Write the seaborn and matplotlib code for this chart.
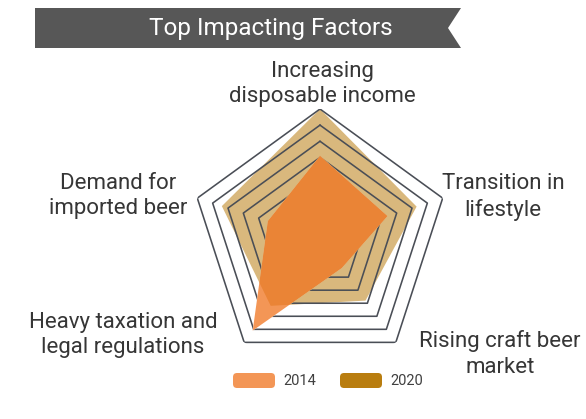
import numpy as np
import pandas as pd
import matplotlib
matplotlib.use("Agg")
import matplotlib.pyplot as plt
import seaborn as sns
from matplotlib.patches import Polygon, FancyBboxPatch
from matplotlib.transforms import IdentityTransform

# ---- data -------------------------------------------------------------
factors = [
    "Increasing\ndisposable income",
    "Transition in\nlifestyle",
    "Rising craft beer\nmarket",
    "Heavy taxation and\nlegal regulations",
    "Demand for\nimported beer",
]
values_2014 = [5.1, 4.4, 2.3, 7.1, 3.4]
values_2020 = [8.0, 6.3, 4.8, 5.2, 6.4]
ring_levels = [1, 2, 3, 4, 5, 6, 7, 8]
years = ["2014", "2020"]

# ---- style ------------------------------------------------------------
sns.set_theme(style="white")
plt.rcParams["font.family"] = ["Roboto", "DejaVu Sans"]

color_2014 = "#f0731e"
color_2020 = "#b97d0f"
grid_color = "#4a4e56"
text_color = "#363636"

W, H = 586, 419
fig = plt.figure(figsize=(W / 100, H / 100), dpi=100)
fig.patch.set_facecolor("white")

def fx(x):
    return x / W

def fy(y):
    return 1 - y / H

# ---- title banner -----------------------------------------------------
banner = Polygon(
    [(35, H - 8), (461, H - 8), (448, H - 28), (461, H - 48), (35, H - 48)],
    closed=True, facecolor="#575757", edgecolor="none",
    transform=IdentityTransform(),
)
fig.add_artist(banner)
fig.text(fx(271), fy(28), "Top Impacting Factors", color="white",
         fontsize=17.5, fontweight="normal", ha="center", va="center")

# ---- radar ------------------------------------------------------------
cx, cy, R = 320, 238, 129
ax = fig.add_axes([fx(cx - R), 1 - (cy + R) / H, 2 * R / W, 2 * R / H],
                  projection="polar")
ax.set_theta_offset(np.pi / 2)
ax.set_theta_direction(-1)
ax.set_ylim(0, max(ring_levels))
ax.set_axis_off()

n = len(factors)
theta = np.linspace(0, 2 * np.pi, n, endpoint=False)
theta_closed = np.append(theta, theta[0])
v14 = np.append(values_2014, values_2014[0])
v20 = np.append(values_2020, values_2020[0])

# 2020 area
ax.fill(theta_closed, v20, color=color_2020, alpha=0.54, linewidth=0, zorder=1)

# concentric pentagon rings
rings = pd.DataFrame(
    [(t, lvl, lvl) for lvl in ring_levels for t in theta_closed],
    columns=["theta", "r", "ring"],
)
sns.lineplot(data=rings, x="theta", y="r", units="ring", estimator=None,
             sort=False, color=grid_color, linewidth=1.15, ax=ax,
             legend=False, zorder=2)
ax.set_axis_off()

# 2014 area, laid over the rings
mask = ax.fill(theta_closed, v14, color="white", linewidth=0, zorder=3)[0]
under = ax.fill(theta_closed, v20, color=color_2020, alpha=0.54,
                linewidth=0, zorder=4)[0]
under.set_clip_path(mask)
ax.fill(theta_closed, v14, color=color_2014, alpha=0.75, linewidth=0, zorder=5)

# ---- factor labels ----------------------------------------------------
label_pos = [(322, 84), (503, 197), (500, 354), (123, 335), (118, 196)]
for name, (x, y) in zip(factors, label_pos):
    fig.text(fx(x), fy(y), name, color=text_color, fontsize=16,
             ha="center", va="center", linespacing=1.3)

# ---- legend -----------------------------------------------------------
swatches = {"2014": (233, color_2014, 0.75), "2020": (340, color_2020, 1.0)}
for year in years:
    x0, col, a = swatches[year]
    box = FancyBboxPatch((x0 + 4, H - 388 + 4), 42 - 8, 15 - 8,
                         boxstyle="round,pad=4", facecolor=col, alpha=a,
                         edgecolor="none", transform=IdentityTransform())
    fig.add_artist(box)
    fig.text(fx(x0 + 50), fy(380.5), year, color="#404040", fontsize=10.5,
             ha="left", va="center")

fig.savefig("out.png", dpi=100, facecolor="white")
